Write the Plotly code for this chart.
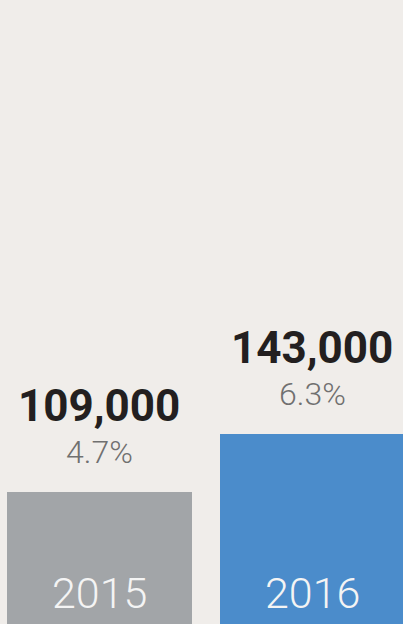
import plotly.graph_objects as go

years = ["2015", "2016"]
values = [109000, 143000]
shares = ["4.7%", "6.3%"]
bar_colors = ["#a2a5a8", "#4b8ccb"]

fig = go.Figure()

fig.add_trace(go.Bar(
    x=[0, 1],
    y=values,
    width=0.87,
    marker=dict(color=bar_colors, line=dict(width=0)),
    hoverinfo="skip",
    showlegend=False,
))

# value labels, share labels and year labels
for i, (yr, val, pct) in enumerate(zip(years, values, shares)):
    fig.add_annotation(
        x=i, y=val, text=f"{val:,}", showarrow=False,
        xanchor="center", yanchor="bottom", yshift=58,
        font=dict(family="Roboto", size=44, color="#231f20", weight="bold"),
    )
    fig.add_annotation(
        x=i, y=val, text=pct, showarrow=False,
        xanchor="center", yanchor="bottom", yshift=19,
        font=dict(family="Roboto", size=32, color="#707070", weight=300),
    )
    fig.add_annotation(
        x=i, y=31600, text=yr, showarrow=False,
        xanchor="center", yanchor="bottom", yshift=4,
        font=dict(family="Roboto", size=43, color="#f4f4f4", weight=300),
    )

fig.update_xaxes(range=[-0.467, 1.425], visible=False, fixedrange=True)
fig.update_yaxes(range=[31600, 397400], visible=False, fixedrange=True)

fig.update_layout(
    width=403, height=624,
    margin=dict(l=0, r=0, t=0, b=0),
    paper_bgcolor="#f0edea",
    plot_bgcolor="#f0edea",
    bargap=0,
)

fig.write_html(
    "out.html",
    config={"displayModeBar": False},
    post_script="document.body.style.margin='0';document.body.style.background='#f0edea';",
)
